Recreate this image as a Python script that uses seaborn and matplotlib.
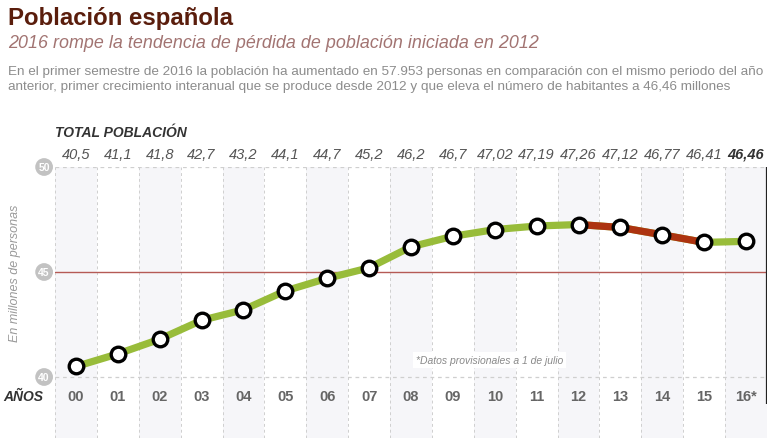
import pandas as pd
import matplotlib.pyplot as plt
import seaborn as sns

# datos: población total (millones de personas)
years = ["00", "01", "02", "03", "04", "05", "06", "07", "08",
         "09", "10", "11", "12", "13", "14", "15", "16*"]
population = [40.5, 41.1, 41.8, 42.7, 43.2, 44.1, 44.7, 45.2, 46.2,
              46.7, 47.02, 47.19, 47.26, 47.12, 46.77, 46.41, 46.46]
value_labels = ["40,5", "41,1", "41,8", "42,7", "43,2", "44,1", "44,7", "45,2", "46,2",
                "46,7", "47,02", "47,19", "47,26", "47,12", "46,77", "46,41", "46,46"]
decline_years = ["12", "13", "14", "15"]
y_ticks = [40, 45, 50]

df = pd.DataFrame({"x": range(len(years)), "year": years, "pop": population})
df_red = df[df["year"].isin(decline_years)]

sns.set_theme(style="white")
plt.rcParams['font.family'] = ['Liberation Sans', 'DejaVu Sans']

GREEN = "#98bc3a"
RED = "#ad3310"
GREY_TXT = "#8c8c8c"

fig = plt.figure(figsize=(7.7, 4.39), dpi=100)
ax = fig.add_axes([55 / 770, 0, 712 / 770, (439 - 168) / 439])
ax.set_xlim(-0.5, len(years) - 0.5)
ax.set_ylim(37.095, 50)
for s in ax.spines.values():
    s.set_visible(False)
ax.set_xticks([])
ax.set_yticks([])

# bandas alternas y separadores punteados
for i in range(len(years)):
    if i % 2 == 0:
        ax.axvspan(i - 0.5, i + 0.5, color="#f6f6f9", zorder=0, lw=0)
for i in range(len(years) + 1):
    ax.axvline(i - 0.5, color="#cfcfcf", ls=(0, (3, 3)), lw=0.7, zorder=1)
for t in [40, 50]:
    ax.axhline(t, color="#cfcfcf", ls=(0, (3, 3)), lw=0.9, zorder=1)
ax.axhline(45, color="#b55a55", lw=1.0, zorder=1)
ax.vlines(len(years) - 0.5, 38.71, 50, color="#222222", lw=1.6, zorder=3)

# línea
sns.lineplot(data=df, x="x", y="pop", color=GREEN, lw=5.2, ax=ax, zorder=4)
sns.lineplot(data=df_red, x="x", y="pop", color=RED, lw=5.2, ax=ax, zorder=5)
sns.scatterplot(data=df, x="x", y="pop", s=110, color="white", edgecolor="black",
                linewidth=2.4, ax=ax, zorder=6)
ax.set_xlabel("")
ax.set_ylabel("")

# etiquetas de valor y años
for i, (lab, yr) in enumerate(zip(value_labels, years)):
    last = i == len(years) - 1
    ax.text(i, 50.62, lab, ha="center", va="center", fontsize=10.5, style="italic",
            fontweight="bold" if last else "normal",
            color="#333333" if last else "#555555", clip_on=False)
    ax.text(i, 39.1, yr, ha="center", va="center", fontsize=10.5, fontweight="bold",
            color="#666666")

for t in y_ticks:
    ax.text(-0.76, t, str(t), ha="center", va="center", fontsize=7.5, fontweight="bold",
            color="white", clip_on=False,
            bbox=dict(boxstyle="circle,pad=0.3", fc="#c2c2c2", ec="none"))

ax.text(9.88, 40.81, "*Datos provisionales a 1 de julio", ha="center", va="center",
        fontsize=7.5, style="italic", color="#8a8a8a",
        bbox=dict(boxstyle="square,pad=0.3", fc="white", ec="none"), zorder=3)

fig.text(15 / 770, 1 - 273 / 439, "En millones de personas", rotation=90, ha="center",
         va="center", fontsize=9, style="italic", color="#9a9a9a")
fig.text(55 / 770, 1 - 133 / 439, "TOTAL POBLACIÓN", ha="left", va="center",
         fontsize=10, style="italic", fontweight="bold", color="#333333")
fig.text(3 / 770, 1 - 397 / 439, "AÑOS", ha="left", va="center",
         fontsize=10, style="italic", fontweight="bold", color="#333333")

# cabecera
fig.text(8 / 770, 1 - 18 / 439, "Población española", ha="left", va="center",
         fontsize=17.3, fontweight="bold", color="#5a1d0c")
fig.text(8 / 770, 1 - 44 / 439, "2016 rompe la tendencia de pérdida de población iniciada en 2012",
         ha="left", va="center", fontsize=12.9, style="italic", color="#a27472")
fig.text(8 / 770, 1 - 72 / 439,
         "En el primer semestre de 2016 la población ha aumentado en 57.953 personas en comparación con el mismo periodo del año",
         ha="left", va="center", fontsize=9.7, color=GREY_TXT)
fig.text(8 / 770, 1 - 87 / 439,
         "anterior, primer crecimiento interanual que se produce desde 2012 y que eleva el número de habitantes a 46,46 millones",
         ha="left", va="center", fontsize=9.7, color=GREY_TXT)

fig.savefig("out.png", dpi=100)
